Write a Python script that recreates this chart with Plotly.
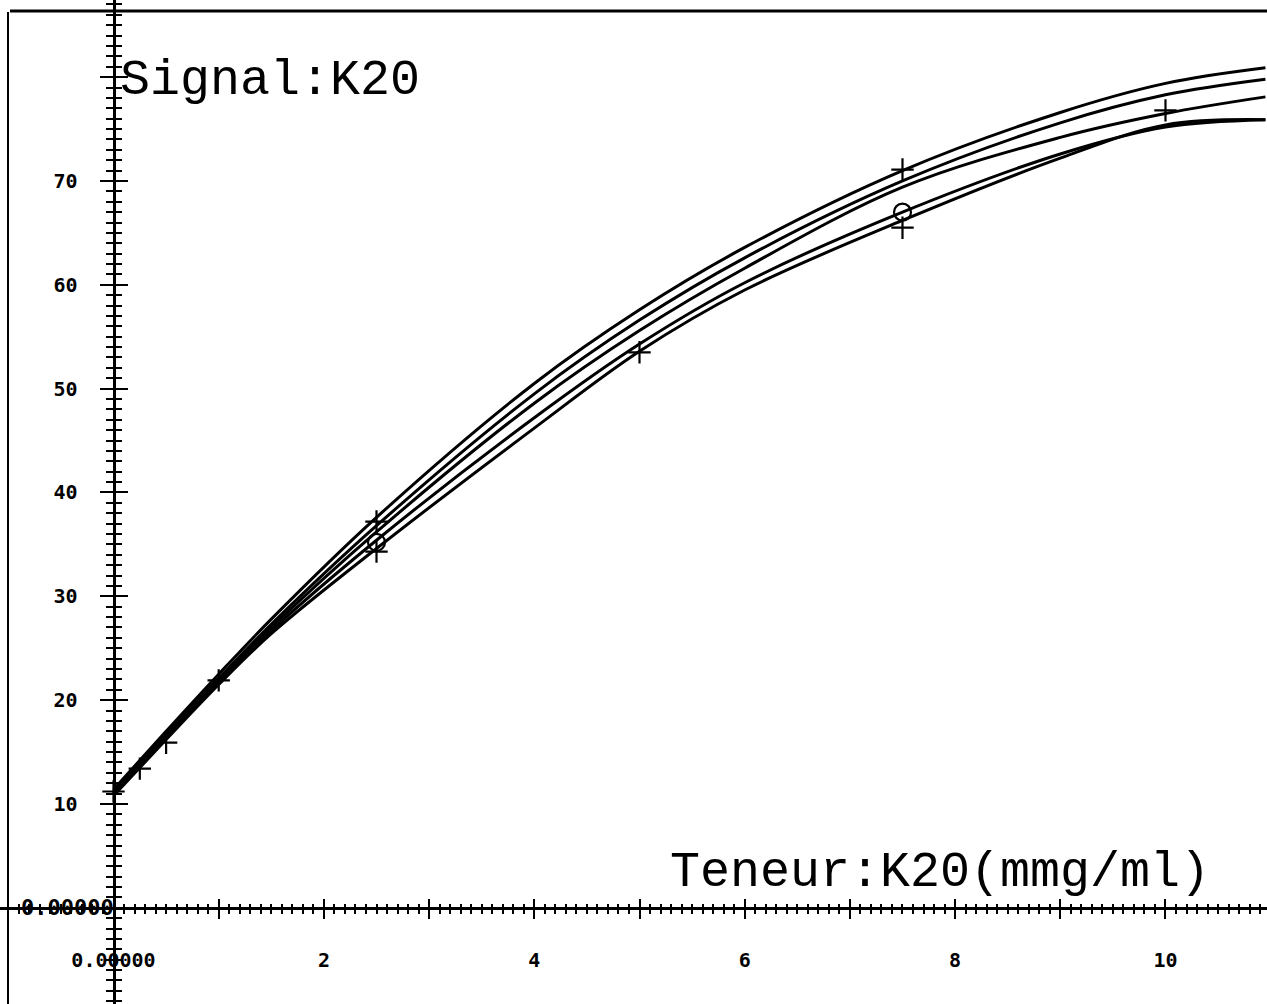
import plotly.graph_objects as go

# ---- data ----
x_pts = [0, 0.5, 1, 1.5, 2.5, 4, 5, 6, 7.5, 9, 10, 10.95]
curve_a = [11.4, 17.0, 22.5, 27.8, 37.6, 50.5, 57.6, 63.6, 71.0, 76.6, 79.4, 80.9]
curve_b = [11.2, 16.7, 22.1, 27.3, 36.8, 49.5, 56.6, 62.6, 70.0, 75.6, 78.3, 79.8]
curve_c = [11.0, 16.5, 21.9, 27.0, 36.2, 48.6, 55.6, 61.6, 69.4, 74.2, 76.5, 78.1]
curve_d = [11.0, 16.4, 21.7, 26.7, 35.4, 47.2, 54.3, 60.2, 67.0, 72.6, 75.2, 75.9]
curve_e = [10.8, 16.2, 21.5, 26.4, 34.6, 46.2, 53.6, 59.5, 66.2, 72.2, 75.4, 75.9]
curves = [curve_a, curve_b, curve_c, curve_d, curve_e]

cross_x = [0, 0.25, 0.5, 1, 2.5, 2.5, 5, 7.5, 7.5, 10]
cross_y = [11.2, 13.4, 15.9, 21.9, 37.2, 34.3, 53.5, 71.1, 65.5, 76.8]
circle_x = [7.5, 2.5]
circle_y = [67.0, 35.2]

x_tickvals = list(range(0, 11))
x_ticktext = ["0.00000", "", "2", "", "4", "", "6", "", "8", "", "10"]
y_tickvals = list(range(0, 90, 10))
y_ticktext = ["", "10", "20", "30", "40", "50", "60", "70", ""]

XR = [-1.079, 10.965]
YR = [-9.265, 87.43]
W, H = 1267, 1004

px0 = (0 - XR[0]) / (XR[1] - XR[0])
py0 = (0 - YR[0]) / (YR[1] - YR[0])

tickfont = dict(family="DejaVu Sans Mono", size=20, color="black", weight="bold")
zerofont = dict(family="DejaVu Sans Mono", size=22, color="black", weight="bold")
titlefont = dict(family="Liberation Mono", size=50, color="black")

fig = go.Figure()
for c in curves:
    fig.add_trace(go.Scatter(x=x_pts, y=c, mode="lines",
                             line=dict(color="black", width=3, shape="spline", smoothing=1.0),
                             showlegend=False, hoverinfo="skip"))
fig.add_trace(go.Scatter(x=cross_x, y=cross_y, mode="markers",
                         marker=dict(symbol="cross-thin", size=16,
                                     line=dict(color="black", width=2.2)),
                         showlegend=False, hoverinfo="skip"))
fig.add_trace(go.Scatter(x=circle_x, y=circle_y, mode="markers",
                         marker=dict(symbol="circle-open", size=17, color="black",
                                     line=dict(color="black", width=2.2)),
                         showlegend=False, hoverinfo="skip"))
fig.add_trace(go.Scatter(x=[None], y=[None], xaxis="x2", yaxis="y2",
                         showlegend=False, hoverinfo="skip"))

minor_x = dict(tickmode="linear", tick0=0, dtick=0.1, ticks="outside", ticklen=4,
               tickwidth=1.5, tickcolor="black", showgrid=False)
minor_x_in = dict(minor_x, ticks="inside")
minor_y = dict(tickmode="linear", tick0=0, dtick=1, ticks="outside", ticklen=7,
               tickwidth=2, tickcolor="black", showgrid=False)
minor_y_in = dict(minor_y, ticks="inside")

fig.update_layout(
    width=W, height=H,
    margin=dict(l=0, r=0, t=0, b=0),
    paper_bgcolor="white", plot_bgcolor="white",
    xaxis=dict(range=XR, domain=[0, 1], anchor="free", position=py0,
               showline=True, linecolor="black", linewidth=3,
               ticks="outside", ticklen=9, tickwidth=2, tickcolor="black",
               tickmode="array", tickvals=x_tickvals, ticktext=x_ticktext,
               tickfont=tickfont, ticklabelstandoff=24,
               minor=minor_x, showgrid=False, zeroline=False, fixedrange=True),
    xaxis2=dict(range=XR, overlaying="x", anchor="free", position=py0,
                showline=False, ticks="inside", ticklen=9, tickwidth=2, tickcolor="black",
                tickmode="array", tickvals=x_tickvals, showticklabels=False,
                minor=minor_x_in, showgrid=False, zeroline=False),
    yaxis=dict(range=YR, domain=[0, 1], anchor="free", position=px0,
               showline=True, linecolor="black", linewidth=3,
               ticks="outside", ticklen=13, tickwidth=2, tickcolor="black",
               tickmode="array", tickvals=y_tickvals, ticktext=y_ticktext,
               tickfont=tickfont, ticklabelstandoff=18,
               minor=minor_y, showgrid=False, zeroline=False, fixedrange=True),
    yaxis2=dict(range=YR, overlaying="y", anchor="free", position=px0,
                showline=False, ticks="inside", ticklen=13, tickwidth=2, tickcolor="black",
                tickmode="array", tickvals=y_tickvals, showticklabels=False,
                minor=minor_y_in, showgrid=False, zeroline=False),
    annotations=[
        dict(text="Signal:K20", xref="paper", yref="paper", x=118 / W, y=1 - 80 / H,
             xanchor="left", yanchor="middle", showarrow=False, font=titlefont),
        dict(text="Teneur:K20(mmg/ml)", xref="paper", yref="paper", x=668 / W, y=1 - 872 / H,
             xanchor="left", yanchor="middle", showarrow=False, font=titlefont),
        dict(text="0.00000", xref="x", yref="y", x=0.02, y=0, xanchor="right", yanchor="middle",
             showarrow=False, font=zerofont),
    ],
    shapes=[
        dict(type="line", xref="paper", yref="paper", x0=10 / W, x1=1, y0=1 - 11 / H, y1=1 - 11 / H,
             line=dict(color="black", width=3)),
        dict(type="line", xref="paper", yref="paper", x0=8 / W, x1=8 / W, y0=0, y1=1 - 12 / H,
             line=dict(color="black", width=2)),
    ],
)

fig.write_html("out.html", config={"displayModeBar": False},
               post_script="document.body.style.margin='0';document.body.style.overflow='hidden';")
